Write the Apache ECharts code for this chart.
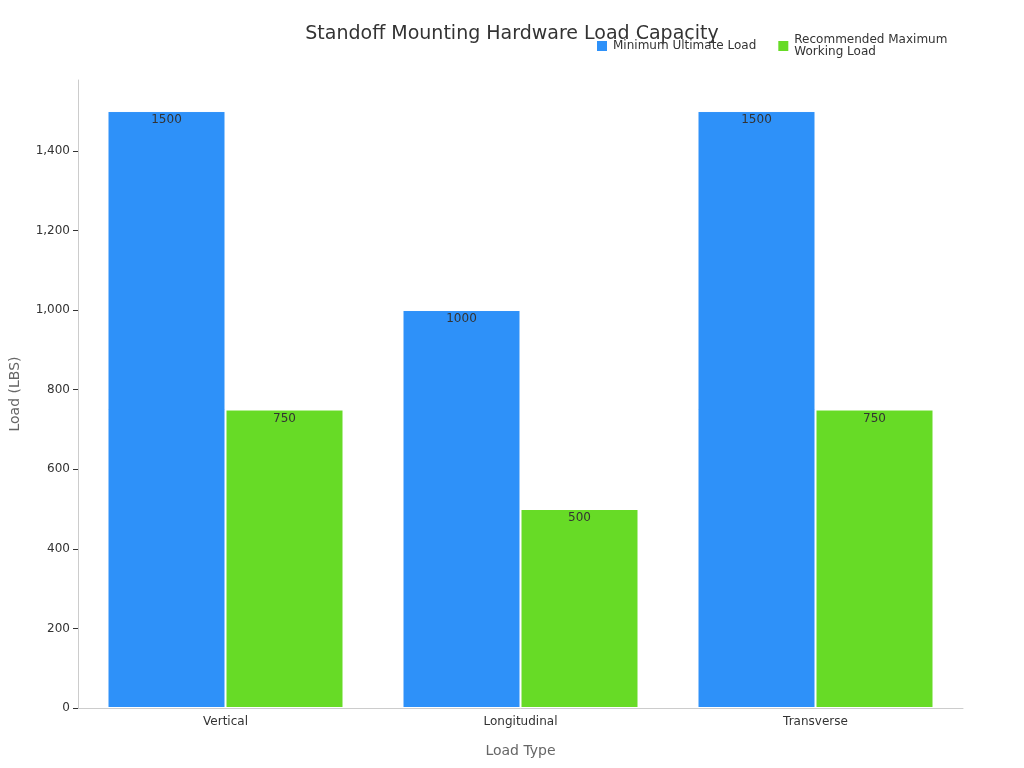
<!DOCTYPE html>
<html><head><meta charset="utf-8">
<script src="https://cdn.jsdelivr.net/npm/echarts@6/dist/echarts.min.js"></script>
<style>html,body{margin:0;padding:0}#c{width:1024px;height:768px}</style>
</head><body><div id="c"></div>
<script>
const categories = ['Vertical', 'Longitudinal', 'Transverse'];
const minimumUltimateLoad = [1500, 1000, 1500];
const recommendedMaxWorkingLoad = [750, 500, 750];
const chart = echarts.init(document.getElementById('c'));
const lbl = {show: true, position: 'insideTop', color: '#333', fontSize: 12, fontFamily: 'DejaVu Sans', offset: [0, -2]};
chart.setOption({
  title: {text: 'Standoff Mounting Hardware Load Capacity', left: 'center', top: 20,
    textStyle: {fontFamily: 'DejaVu Sans', fontSize: 19, fontWeight: 'normal', color: '#333'}},
  legend: {top: 29, left: 590, itemWidth: 12, itemHeight: 12, itemGap: 20,
    textStyle: {fontFamily: 'DejaVu Sans', fontSize: 12, color: '#333'},
    data: [{name: 'Minimum Ultimate Load', icon: 'rect'}, {name: 'Recommended Maximum\nWorking Load', icon: 'rect'}]},
  grid: {left: 76, right: 61, top: 80, bottom: 60},
  xAxis: {type: 'category', data: categories, name: 'Load Type', nameLocation: 'middle', nameGap: 36,
    nameTextStyle: {fontFamily: 'DejaVu Sans', fontSize: 14, color: '#666'},
    axisLine: {lineStyle: {color: '#ccc'}}, axisTick: {show: false},
    axisLabel: {fontFamily: 'DejaVu Sans', fontSize: 12, color: '#333'}},
  yAxis: {type: 'value', min: 0, max: 1578, interval: 200, name: 'Load (LBS)', nameLocation: 'middle', nameGap: 56,
    nameTextStyle: {fontFamily: 'DejaVu Sans', fontSize: 14, color: '#666'},
    axisLine: {show: true, lineStyle: {color: '#ccc'}}, axisTick: {show: true, lineStyle: {color: '#333'}},
    splitLine: {show: false},
    axisLabel: {fontFamily: 'DejaVu Sans', fontSize: 12, color: '#333', showMaxLabel: false}},
  series: [
    {name: 'Minimum Ultimate Load', type: 'bar', data: minimumUltimateLoad, barGap: '0%', barCategoryGap: '20%',
      itemStyle: {color: '#2e91f9', borderColor: '#fff', borderWidth: 1}, label: lbl},
    {name: 'Recommended Maximum\nWorking Load', type: 'bar', data: recommendedMaxWorkingLoad,
      itemStyle: {color: '#67db26', borderColor: '#fff', borderWidth: 1}, label: lbl}
  ]
});
</script></body></html>
